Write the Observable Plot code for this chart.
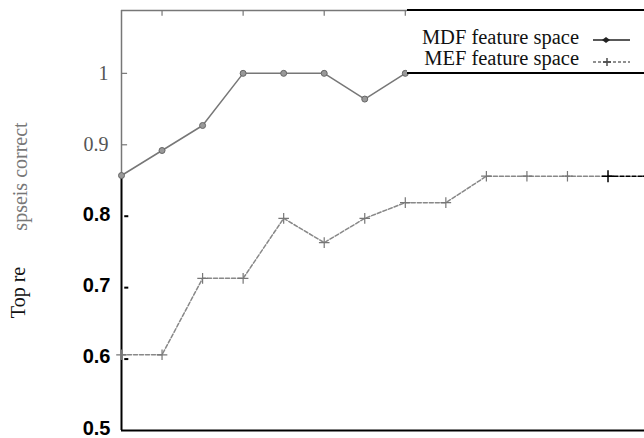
<!DOCTYPE html>
<html><head><meta charset="utf-8">
<script src="https://cdn.jsdelivr.net/npm/d3@7"></script>
<script src="https://cdn.jsdelivr.net/npm/@observablehq/plot@0.6"></script>
<style>
body{margin:0;background:#fff;}
#wrap{position:relative;width:644px;height:438px;overflow:hidden;}
#legend{position:absolute;left:407px;top:9px;width:237px;height:61px;border-top:2px solid #000;border-bottom:2px solid #000;background:#fff;font-family:"Liberation Serif",serif;font-size:20.5px;color:#111;}
#legend .row{position:absolute;right:0;width:237px;height:21px;line-height:21px;}
#legend .lab{position:absolute;right:65px;white-space:nowrap;}
#legend svg{position:absolute;left:186px;top:0;}
</style></head><body><div id="wrap"></div>
<script>
// data
const mdfIndex = [0, 1, 2, 3, 4, 5, 6, 7];
const mdfValues = [0.857, 0.892, 0.927, 1.0, 1.0, 1.0, 0.964, 1.0];
const mefIndex = [0, 1, 2, 3, 4, 5, 6, 7, 8, 9, 10, 11, 12, 13];
const mefValues = [0.606, 0.606, 0.713, 0.713, 0.797, 0.763, 0.797, 0.819, 0.819, 0.856, 0.856, 0.856, 0.856, 0.856];
const upperTicks = [1, 0.9];
const upperTickLabels = ["1", "0.9"];
const lowerTicks = [0.8, 0.7, 0.6, 0.5];
const lowerTickLabels = ["0.8", "0.7", "0.6", "0.5"];
const topTicks = [1, 3, 5, 7];
const seriesNames = ["MDF feature space", "MEF feature space"];
const yLabelParts = ["Top re", "spseis correct"];

const yMin = 0.5, yMax = 1.088, ySplit = 0.853, xMin = 0, xMax = 12.9;

const mdf = mdfIndex.map((i, k) => ({i, v: mdfValues[k]}));
const mef = mefIndex.map((i, k) => ({i, v: mefValues[k]}));
const mefMain = mef.filter(d => d.i <= 12);
const mefTail = mef.filter(d => d.i >= 12);

const chart = Plot.plot({
  width: 644, height: 438,
  marginLeft: 121, marginRight: 0, marginTop: 10, marginBottom: 8,
  x: {domain: [xMin, xMax], axis: null},
  y: {domain: [yMin, yMax], axis: null},
  marks: [
    // frame
    Plot.ruleX([xMin], {y1: yMin, y2: ySplit, stroke: "#000", strokeWidth: 2}),
    Plot.ruleX([xMin], {y1: ySplit + 0.004, y2: yMax, stroke: "#777", strokeWidth: 1.5}),
    Plot.ruleY([yMin], {x1: xMin, x2: xMax, stroke: "#000", strokeWidth: 2}),
    Plot.ruleY([yMax], {x1: xMin, x2: 7.1, stroke: "#777", strokeWidth: 1.5}),
    Plot.ruleX(topTicks, {y1: yMax, y2: yMax - 0.008, stroke: "#777", strokeWidth: 1.2}),
    // y ticks
    Plot.ruleY(upperTicks, {x1: xMin, x2: 0.15, stroke: "#777", strokeWidth: 1.2}),
    Plot.ruleY(lowerTicks.slice(0, 3), {x1: 0.08, x2: 0.18, stroke: "#000", strokeWidth: 2}),
    Plot.text(upperTicks, {x: xMin, y: d => d, text: upperTickLabels, dx: -13, textAnchor: "end",
      fontFamily: "Liberation Serif", fontSize: 20, fill: "#555"}),
    Plot.text(lowerTicks, {x: xMin, y: d => d, text: lowerTickLabels, dx: -11, dy: -2, textAnchor: "end",
      fontFamily: "Liberation Sans", fontWeight: "bold", fontSize: 20, fill: "#000"}),
    // y label
    Plot.text([yLabelParts[0]], {frameAnchor: "left", textAnchor: "middle", dx: -103, dy: 72, rotate: -90,
      fontFamily: "Liberation Serif", fontSize: 20, fill: "#111"}),
    Plot.text([yLabelParts[1]], {frameAnchor: "left", textAnchor: "middle", dx: -101, dy: -44, rotate: -90,
      fontFamily: "Liberation Serif", fontSize: 20, fill: "#777"}),
    // MDF series
    Plot.line(mdf, {x: "i", y: "v", stroke: "#777", strokeWidth: 1.5}),
    Plot.dot(mdf, {x: "i", y: "v", r: 3, fill: "#999", stroke: "#666", strokeWidth: 1}),
    // MEF series
    Plot.line(mefMain, {x: "i", y: "v", stroke: "#888", strokeWidth: 1.5, strokeDasharray: "4,2"}),
    Plot.line(mefTail, {x: "i", y: "v", stroke: "#000", strokeWidth: 1.5, strokeDasharray: "4,2", clip: true}),
    Plot.dot(mefMain.filter(d => d.i < 12), {x: "i", y: "v", symbol: "plus", r: 3.5, stroke: "#777", strokeWidth: 1.2}),
    Plot.dot(mefTail, {x: "i", y: "v", symbol: "plus", r: 4, stroke: "#000", strokeWidth: 1.5, clip: true})
  ]
});
const wrap = document.getElementById("wrap");
wrap.appendChild(chart);

const legend = document.createElement("div");
legend.id = "legend";
legend.innerHTML = `
  <div class="row" style="top:16px"><span class="lab">${seriesNames[0]}</span>
    <svg width="40" height="21"><line x1="0" y1="13" x2="37" y2="13" stroke="#222" stroke-width="1.3"/>
    <path d="M9,13 L13,10 L17,13 L13,16Z" fill="#222"/></svg></div>
  <div class="row" style="top:37px"><span class="lab">${seriesNames[1]}</span>
    <svg width="40" height="21"><line x1="0" y1="14" x2="37" y2="14" stroke="#222" stroke-width="1.2" stroke-dasharray="3,2"/>
    <path d="M14,10 V18 M10,14 H18" stroke="#222" stroke-width="1.2"/></svg></div>`;
wrap.appendChild(legend);
</script></body></html>
